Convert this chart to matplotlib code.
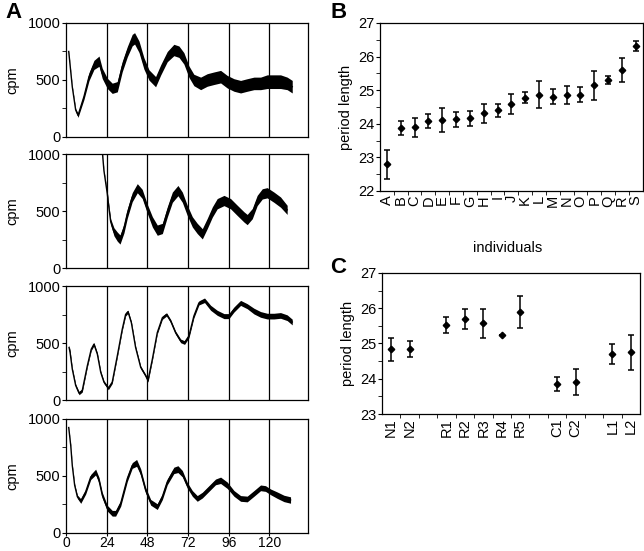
import numpy as np
import matplotlib
matplotlib.use("Agg")
import matplotlib.pyplot as plt
from matplotlib.ticker import MultipleLocator, FixedLocator

plt.rcParams['font.family'] = ['Liberation Sans', 'DejaVu Sans']

# panel A traces: time (h), cpm, half width of noisy band
t1 = [1.6, 3.7, 5.7, 7.1, 10.6, 13.6, 16.5, 19.5, 21.4, 24.4, 27.3, 30.3, 33.2, 36.2, 39.1, 40.5,
      43.1, 46.0, 49.0, 52.9, 55.9, 59.8, 63.7, 66.7, 69.6, 72.6, 75.5, 79.5, 83.4, 87.3, 91.3,
      95.2, 99.2, 103.1, 107.0, 111.0, 114.9, 118.8, 122.8, 126.7, 130.6, 133.6]
c1 = [750, 440, 237, 190, 354, 530, 632, 665, 558, 470, 427, 441, 617, 748, 850, 865,
      792, 646, 544, 485, 588, 705, 763, 748, 690, 573, 500, 470, 500, 515, 529,
      485, 456, 441, 456, 470, 470, 485, 485, 485, 470, 441]
w1 = [5, 8, 12, 18, 25, 35, 40, 45, 45, 45, 45, 45, 45, 45, 50, 50,
      50, 50, 45, 45, 45, 45, 50, 50, 50, 50, 50, 55, 55, 55, 55,
      55, 55, 55, 55, 55, 55, 60, 60, 60, 55, 55]

t2 = [21.0, 22.4, 23.4, 24.4, 25.4, 26.4, 28.3, 30.3, 31.9, 34.2, 36.2, 39.1, 42.1, 45.0, 48.0,
      51.0, 53.9, 56.9, 59.8, 62.8, 66.1, 68.7, 71.6, 74.6, 77.5, 80.5, 83.4, 86.4, 89.3,
      93.3, 97.2, 101.1, 105.1, 107.0, 110.0, 112.9, 115.9, 118.8, 122.8, 126.7, 130.6]
c2 = [1100, 853, 751, 650, 520, 405, 318, 275, 250, 347, 477, 621, 700, 650, 520,
      405, 332, 347, 491, 621, 679, 621, 506, 405, 347, 300, 390, 491, 564,
      592, 564, 506, 448, 425, 477, 592, 650, 660, 621, 578, 510]
w2 = [5, 8, 10, 15, 20, 25, 35, 40, 40, 40, 40, 40, 40, 40, 40,
      45, 45, 45, 45, 45, 45, 45, 45, 45, 45, 45, 45, 45, 45,
      45, 45, 45, 45, 45, 45, 45, 45, 45, 45, 45, 40]

t3 = [1.8, 2.4, 3.7, 5.7, 7.7, 9.6, 12.6, 14.9, 16.5, 18.5, 20.5, 22.4, 25.0, 27.3, 30.3,
      33.2, 35.2, 36.6, 38.6, 41.1, 44.1, 47.0, 48.4, 51.0, 53.9, 56.9, 59.4, 61.8, 64.7,
      67.7, 70.0, 72.6, 75.5, 78.5, 81.8, 85.4, 89.3, 93.3, 96.2, 99.2, 103.1, 107.0,
      111.0, 114.9, 118.8, 122.8, 126.7, 130.6, 133.6]
c3 = [461, 417, 272, 128, 60, 84, 301, 446, 490, 403, 243, 157, 104, 157, 388,
      620, 751, 775, 678, 461, 287, 214, 171, 359, 591, 722, 751, 693, 591,
      519, 504, 562, 736, 852, 875, 809, 765, 736, 736, 794, 852, 823,
      780, 751, 736, 736, 742, 722, 684]
w3 = [20, 20, 12, 12, 14, 14, 12, 12, 14, 12, 12, 12, 14, 12, 12,
      12, 14, 14, 12, 12, 12, 12, 14, 12, 12, 14, 14, 14, 14,
      16, 16, 16, 16, 18, 20, 22, 22, 22, 22, 22, 22, 22,
      25, 25, 25, 25, 25, 25, 25]

t4 = [1.6, 2.8, 3.7, 5.1, 6.7, 8.7, 11.6, 14.6, 17.5, 19.5, 21.4, 24.4, 27.3, 29.3, 32.3,
      36.2, 39.1, 41.7, 44.1, 47.0, 50.0, 53.9, 56.9, 59.8, 63.7, 66.1, 68.7, 71.6, 74.6,
      77.5, 80.5, 84.4, 88.3, 91.3, 95.2, 99.2, 103.1, 107.0, 111.0, 114.9, 117.8, 120.8,
      124.7, 128.7, 132.6]
c4 = [925, 766, 592, 419, 318, 280, 361, 491, 535, 462, 332, 217, 173, 173, 260,
      477, 592, 615, 535, 376, 269, 231, 318, 448, 549, 560, 520, 419, 347,
      303, 332, 390, 448, 462, 419, 347, 303, 298, 347, 396, 390, 361,
      332, 303, 289]
w4 = [5, 8, 10, 12, 15, 20, 20, 22, 25, 25, 25, 25, 25, 25, 25,
      25, 25, 30, 28, 25, 25, 25, 25, 25, 28, 30, 28, 25, 25,
      25, 25, 25, 25, 28, 28, 25, 25, 25, 25, 25, 25, 25,
      28, 28, 28]

traces = [(t1, c1, w1), (t2, c2, w2), (t3, c3, w3), (t4, c4, w4)]

# panel B
indiv = list("ABCDEFGHIJKLMNOPQRS")
b_mean = [22.79, 23.87, 23.89, 24.08, 24.11, 24.13, 24.16, 24.31, 24.40, 24.59, 24.78,
          24.87, 24.81, 24.85, 24.86, 25.14, 25.30, 25.61, 26.32]
b_err = [0.43, 0.21, 0.28, 0.22, 0.37, 0.22, 0.22, 0.29, 0.20, 0.31, 0.16,
         0.39, 0.21, 0.27, 0.22, 0.43, 0.13, 0.36, 0.15]

# panel C
groups = ["N1", "N2", "R1", "R2", "R3", "R4", "R5", "C1", "C2", "L1", "L2"]
g_pos = [0, 1, 3, 4, 5, 6, 7, 9, 10, 12, 13]
g_mean = [24.83, 24.85, 25.53, 25.70, 25.57, 25.23, 25.90, 23.85, 23.90, 24.70, 24.75]
g_err = [0.33, 0.22, 0.23, 0.28, 0.41, 0.0, 0.46, 0.21, 0.37, 0.28, 0.49]

fig = plt.figure(figsize=(6.44, 5.51), dpi=100)

bottoms = [0.7514, 0.5136, 0.274, 0.0327]
for i, (t, c, w) in enumerate(traces):
    ax = fig.add_axes([0.1025, bottoms[i], 0.376, 0.2069])
    t = np.array(t); c = np.array(c); w = np.array(w)
    ax.fill_between(t, c - w, c + w, color='black', lw=0, zorder=3)
    ax.plot(t, c, color='black', lw=1.0, zorder=3)
    ax.set_xlim(0, 143)
    ax.set_ylim(0, 1000)
    for x in [24, 48, 72, 96, 120]:
        ax.axvline(x, color='black', lw=0.9, zorder=2)
    ax.set_yticks([0, 500, 1000])
    ax.yaxis.set_minor_locator(MultipleLocator(250))
    ax.tick_params(axis='y', which='both', direction='out', length=3, labelsize=10.5, pad=1)
    ax.set_ylabel('cpm', fontsize=10.5, labelpad=6)
    ax.set_xticks([0, 24, 48, 72, 96, 120])
    if i < 3:
        ax.tick_params(axis='x', length=0, labelbottom=False)
    else:
        ax.tick_params(axis='x', direction='out', length=2, labelsize=10, pad=0.5)
    for s in ax.spines.values():
        s.set_linewidth(0.9)

# panel B
axb = fig.add_axes([0.590, 0.6534, 0.408, 0.305])
axb.errorbar(range(len(indiv)), b_mean, yerr=b_err, fmt='D', color='black',
             markersize=3.3, capsize=2, elinewidth=1.1, capthick=1.1)
axb.set_xlim(-0.5, len(indiv) - 0.5)
axb.set_ylim(22, 27)
axb.set_xticks(range(len(indiv)))
axb.set_xticklabels(indiv, rotation=90, fontsize=10.5)
axb.xaxis.set_minor_locator(FixedLocator(np.arange(0.5, len(indiv) - 0.5, 1)))
axb.tick_params(axis='x', which='major', length=0, pad=3)
axb.tick_params(axis='x', which='minor', direction='out', length=3)
axb.yaxis.set_major_locator(MultipleLocator(1))
axb.yaxis.set_minor_locator(MultipleLocator(0.5))
axb.tick_params(axis='y', which='both', direction='out', length=3, labelsize=10.5, pad=1)
axb.set_ylabel('period length', fontsize=10.5, labelpad=4)
for s in axb.spines.values():
    s.set_linewidth(0.9)

# panel C
axc = fig.add_axes([0.593, 0.2486, 0.401, 0.256])
axc.errorbar(g_pos, g_mean, yerr=g_err, fmt='D', color='black',
             markersize=3.3, capsize=2, elinewidth=1.1, capthick=1.1)
axc.set_xlim(-0.5, 13.5)
axc.set_ylim(23, 27)
axc.set_xticks(g_pos)
axc.set_xticklabels(groups, rotation=90, fontsize=10.5)
axc.xaxis.set_minor_locator(FixedLocator(np.arange(0.5, 13.5, 1)))
axc.tick_params(axis='x', which='major', length=0, pad=3)
axc.tick_params(axis='x', which='minor', direction='out', length=3)
axc.yaxis.set_major_locator(MultipleLocator(1))
axc.yaxis.set_minor_locator(MultipleLocator(0.5))
axc.tick_params(axis='y', which='both', direction='out', length=3, labelsize=10.5, pad=1)
axc.set_ylabel('period length', fontsize=10.5, labelpad=4)
for s in axc.spines.values():
    s.set_linewidth(0.9)

fig.text(0.789, 0.55, 'individuals', fontsize=10.5, ha='center', va='center')

fig.text(0.008, 0.997, 'A', fontsize=16, fontweight='bold', va='top')
fig.text(0.513, 0.997, 'B', fontsize=16, fontweight='bold', va='top')
fig.text(0.513, 0.533, 'C', fontsize=16, fontweight='bold', va='top')

fig.savefig('out.png', dpi=100)
